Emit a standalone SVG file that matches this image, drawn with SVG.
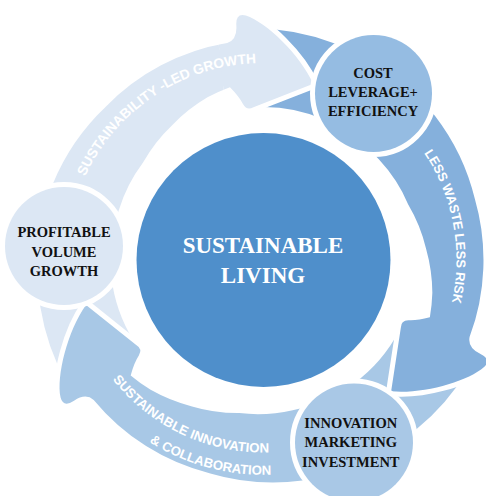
<svg xmlns="http://www.w3.org/2000/svg" width="486" height="496" viewBox="0 0 486 496">
<style>
.arr{stroke:#fff;stroke-width:10;stroke-linejoin:round;paint-order:stroke}
.node{stroke:#fff;stroke-width:10;paint-order:stroke}
.nt{font-family:"Liberation Serif","Times New Roman",serif;font-weight:bold;font-size:14.5px;fill:#111;text-anchor:middle}
.ct{font-family:"Liberation Serif","Times New Roman",serif;font-weight:bold;font-size:23px;fill:#fff;text-anchor:middle}
.at{font-family:"Liberation Sans",Arial,sans-serif;font-weight:bold;fill:#fff;text-anchor:middle}
</style>
<defs>
<path id="arrow" d="M-101.7,-208.5 A230,230 0 0 1 -23.8,-226.8 A226,226 0 0 1 98.2,-201.3 A222,222 0 0 1 168.5,-141.4 A220,220 0 0 1 219.6,-13.4 Q222,-3 236,-2.5 Q249,-2 245,8 C236,28 200,58 170,68 L153,6 Q150,-1 157,-4 Q165,-7 175.3,-15.3 A174,174 0 0 0 167.6,-38.7 A168,168 0 0 0 143.9,-76.5 A159,159 0 0 0 109.6,-109.6 A154,154 0 0 0 64.7,-138.7 A153,153 0 0 0 -67.1,-137.5 Z"/>
<clipPath id="headclip" clipPathUnits="userSpaceOnUse"><rect x="135" y="-22" width="130" height="100"/></clipPath>
<path id="tpGrowth" d="M73.2,209 A197,197 0 0 1 290.9,64.9"/>
<path id="tpWaste" d="M374.2,101.9 A193,193 0 0 1 423.5,367.9"/>
<path id="tpInnov1" d="M82.6,325.8 A192.5,192.5 0 0 0 329.3,440.9"/>
<path id="tpInnov2" d="M77.3,367.5 A215.5,215.5 0 0 0 371,446.2"/>
</defs>

<g id="sustainable-living">
<circle cx="263.5" cy="260" r="127" fill="#4F8FCB"/>
<text class="ct" x="263" y="252.7">SUSTAINABLE</text>
<text class="ct" x="263" y="282.7">LIVING</text>
</g>

<g id="connectors">
<g transform="translate(263.5,260) rotate(264)"><use href="#arrow" class="arr" fill="#DCE7F4"/></g>
<g transform="translate(263.5,260) rotate(144)"><use href="#arrow" class="arr" fill="#A8C8E6"/></g>
<g transform="translate(263.5,260) rotate(24)"><use href="#arrow" class="arr" fill="#85B0DC"/></g>
<g transform="translate(263.5,260) rotate(264)"><use href="#arrow" class="arr" fill="#DCE7F4" clip-path="url(#headclip)"/></g>
<text class="at" font-size="13.8"><textPath href="#tpGrowth" startOffset="50%">SUSTAINABILITY -LED GROWTH</textPath></text>
<text class="at" font-size="13"><textPath href="#tpWaste" startOffset="50%">LESS WASTE LESS RISK</textPath></text>
<text class="at" font-size="13.3"><textPath href="#tpInnov1" startOffset="50%">SUSTAINABLE INNOVATION</textPath></text>
<text class="at" font-size="13.2"><textPath href="#tpInnov2" startOffset="50%">&amp; COLLABORATION</textPath></text>
</g>

<g id="cost-leverage">
<circle class="node" cx="373.5" cy="93.5" r="58.5" fill="#95BCE2"/>
<text class="nt" x="373" y="77.5">COST</text>
<text class="nt" x="373" y="96.5">LEVERAGE+</text>
<text class="nt" x="373" y="115.5">EFFICIENCY</text>
</g>

<g id="profitable-volume">
<circle class="node" cx="64" cy="246" r="59" fill="#DCE7F4"/>
<text class="nt" x="64" y="237.3">PROFITABLE</text>
<text class="nt" x="64" y="256.7">VOLUME</text>
<text class="nt" x="64" y="275.7">GROWTH</text>
</g>

<g id="innovation-marketing">
<circle class="node" cx="354" cy="442.5" r="59" fill="#A9C8E6"/>
<text class="nt" x="350.8" y="427.7">INNOVATION</text>
<text class="nt" x="350.8" y="447.3">MARKETING</text>
<text class="nt" x="350.8" y="466.7">INVESTMENT</text>
</g>
</svg>
